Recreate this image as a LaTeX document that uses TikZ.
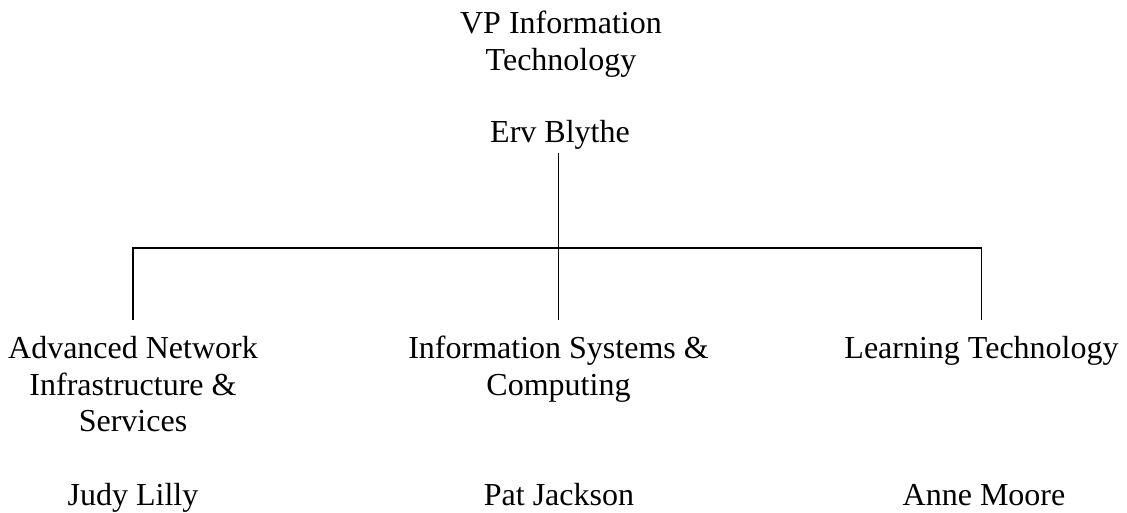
\documentclass[tikz,border=0pt]{standalone}
\usepackage{fontspec}
\setmainfont{Liberation Serif}
\begin{document}
\begin{tikzpicture}[x=1pt,y=-1pt,
  every node/.style={font=\fontsize{32}{36.8}\selectfont, inner sep=0pt},
  toptitle/.style={align=center, anchor=north},
  person/.style={anchor=base},
  unit/.style={align=center, anchor=north, outer ysep=16pt},
  conn/.style={line width=1.7pt}]
\useasboundingbox (0,0) rectangle (1127,513);
\node[toptitle] (vp) at (561,11) {VP Information\\Technology};
\node[person, inner ysep=3pt] (erv) at (560,143) {Erv Blythe};
\coordinate (bar) at (558.5,248);
\node[unit] (adv) at (133,320) {Advanced Network\\Infrastructure \&\\Services};
\node[unit] (isc) at (558.5,320) {Information Systems \&\\Computing};
\node[unit] (lt) at (981.5,320) {Learning Technology};
\node[person] (judy) at (133,505) {Judy Lilly};
\node[person] (pat) at (559,505) {Pat Jackson};
\node[person] (anne) at (984,505) {Anne Moore};
\draw[conn] (bar |- erv.south) -- (bar);
\draw[conn] (adv.north) -- (adv.north |- bar) -- (lt.north |- bar) -- (lt.north);
\draw[conn] (isc.north) -- (isc.north |- bar);
\end{tikzpicture}
\end{document}
